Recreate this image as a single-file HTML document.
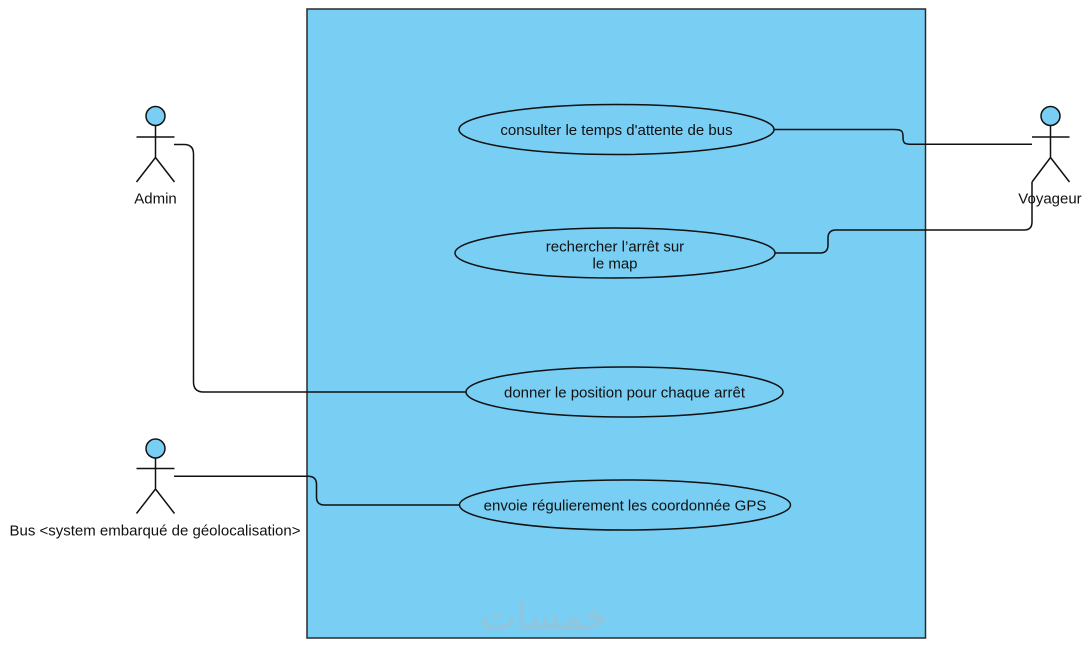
<!DOCTYPE html>
<html>
<head>
<meta charset="utf-8">
<style>
  html,body{margin:0;padding:0;background:#fff;}
  svg{display:block;}
  text{font-family:"Liberation Sans", Arial, sans-serif; font-size:15px; fill:#111;}
</style>
</head>
<body>
<svg width="1092" height="645" viewBox="0 0 1092 645" xmlns="http://www.w3.org/2000/svg">
  <!-- system boundary -->
  <rect x="307" y="9" width="618.5" height="629" fill="#78CEF3" stroke="#2a2a2a" stroke-width="1.5"/>

  <!-- watermark -->
  <text x="480" y="629" textLength="128" lengthAdjust="spacingAndGlyphs" style="font-family:'DejaVu Sans', sans-serif; font-size:36px; fill:#8FC6DF; stroke:#8FC6DF; stroke-width:1.2;">خمسات</text>

  <!-- connectors -->
  <g fill="none" stroke="#111" stroke-width="1.5">
    <path d="M174 144.5 H184 Q193.5 144.5 193.5 154 V382 Q193.5 392 203.5 392 H466"/>
    <path d="M174 476.3 H308 Q316.5 476.3 316.5 484.5 V497 Q316.5 505 324.5 505 H459.5"/>
    <path d="M774 129.5 H894 C902 129.5 903 131 903 137 C903 143 904 144.3 912 144.3 H1032"/>
    <path d="M775 253 H820 Q828 253 828 245 V238 Q828 230 836 230 H1024 Q1032 230 1032 222 V182"/>
  </g>

  <!-- use cases -->
  <g fill="#78CEF3" stroke="#111" stroke-width="1.5">
    <ellipse cx="616.5" cy="129.5" rx="157.5" ry="25"/>
    <ellipse cx="615" cy="253" rx="160" ry="25"/>
    <ellipse cx="624.5" cy="392" rx="158.5" ry="25"/>
    <ellipse cx="625" cy="505" rx="165.5" ry="25"/>
  </g>
  <text x="616.5" y="135" text-anchor="middle">consulter le temps d'attente de bus</text>
  <text x="615" y="251.5" text-anchor="middle">rechercher l’arrêt sur</text>
  <text x="615" y="268.5" text-anchor="middle">le map</text>
  <text x="624.5" y="397.5" text-anchor="middle">donner le position pour chaque arrêt</text>
  <text x="625" y="510.5" text-anchor="middle">envoie régulierement les coordonnée GPS</text>

  <!-- actors -->
  <g stroke="#111" stroke-width="1.5" fill="none">
    <!-- Admin -->
    <circle cx="155.5" cy="116" r="9.5" fill="#78CEF3"/>
    <path d="M155.5 125.5 V157.5 M136.5 137 H174.5 M136.5 182 L155.5 157.5 L174.5 182"/>
    <!-- Bus -->
    <circle cx="155.5" cy="448.5" r="9.5" fill="#78CEF3"/>
    <path d="M155.5 458 V489 M136.5 468.5 H174.5 M136.5 513.5 L155.5 489 L174.5 513.5"/>
    <!-- Voyageur -->
    <circle cx="1050.5" cy="116" r="9.5" fill="#78CEF3"/>
    <path d="M1050.5 125.5 V157.5 M1032 137 H1069.5 M1032 182 L1050.5 157.5 L1069.5 182"/>
  </g>
  <text x="155.5" y="203.5" text-anchor="middle">Admin</text>
  <text x="155" y="535.5" text-anchor="middle">Bus &lt;system embarqué de géolocalisation&gt;</text>
  <text x="1050" y="203.5" text-anchor="middle">Voyageur</text>
</svg>
</body>
</html>
